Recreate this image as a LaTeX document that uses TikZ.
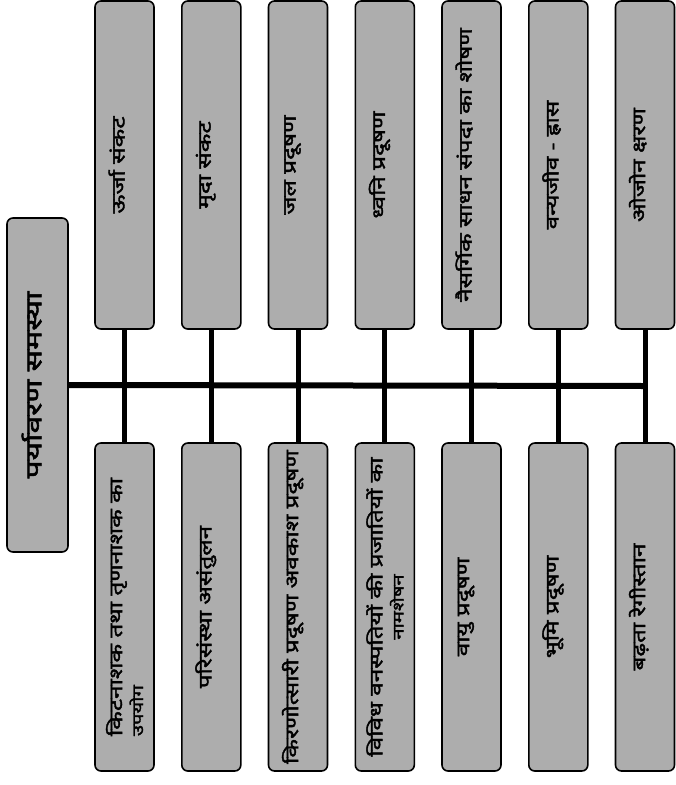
\documentclass[tikz,border=0pt]{standalone}
\usepackage{fontspec}
\newfontfamily\deva[Script=Devanagari,FakeBold=2.2,FakeStretch=1.35]{Noto Sans}
\newfontfamily\devamain[Script=Devanagari,FakeBold=2.6,FakeStretch=1.45]{Noto Sans}
\usetikzlibrary{positioning}
\tikzset{
  probbox/.style={draw,line width=1.6pt,rounded corners=6pt,fill=black!32,
            rotate=90,minimum width=328pt,minimum height=59pt,inner sep=1pt,
            align=center,text depth=16pt,
            font=\deva\fontsize{18}{21}\selectfont},
  twoline/.style={text depth=0pt},
  mainbox/.style={probbox,minimum width=334pt,minimum height=61pt,
            text depth=12pt,font=\devamain\fontsize{22}{26}\selectfont},
  trunk/.style={line width=6pt},
  stem/.style={line width=5pt},
}
\newcommand{\subline}[1]{{\fontsize{15}{16}\selectfont #1}}
\begin{document}
\begin{tikzpicture}[x=1pt,y=-1pt]
  \useasboundingbox (0,0) rectangle (676,785);
  % root
  \node[mainbox] (main) at (37.5,385) {पर्यावरण समस्या};
  % upper row
  \node[probbox] (t1) at (124.5,165) {ऊर्जा संकट};
  \node[probbox] (t2) at (211.3,165) {मृदा संकट};
  \node[probbox] (t3) at (298.0,165) {जल प्रदूषण};
  \node[probbox] (t4) at (384.8,165) {ध्वनि प्रदूषण};
  \node[probbox] (t5) at (471.5,165) {नैसर्गिक साधन संपदा का शोषण};
  \node[probbox] (t6) at (558.3,165) {वन्यजीव - ह्रास};
  \node[probbox] (t7) at (645.0,165) {ओजोन क्षरण};
  % lower row
  \node[probbox,twoline,align=left] (b1) at (124.5,607)
        {किटनाशक तथा तृणनाशक का\\\subline{उपयोग}};
  \node[probbox] (b2) at (211.3,607) {परिसंस्था असंतुलन};
  \node[probbox] (b3) at (298.0,607) {किरणोत्सारी प्रदूषण अवकाश प्रदूषण};
  \node[probbox,twoline] (b4) at (384.8,607)
        {विविध वनस्पतियों की प्रजातियों का\\\subline{नामशेषन}};
  \node[probbox] (b5) at (471.5,607) {वायु प्रदूषण};
  \node[probbox] (b6) at (558.3,607) {भूमि प्रदूषण};
  \node[probbox] (b7) at (645.0,607) {बढ़ता रेगीस्तान};
  % trunk line
  \coordinate (trunkend) at (645.0,386);
  \draw[trunk] (main.south) -- (trunkend);
  % stems
  \draw[stem] (t1.west) -- (b1.east);
  \draw[stem] (t2.west) -- (b2.east);
  \draw[stem] (t3.west) -- (b3.east);
  \draw[stem] (t4.west) -- (b4.east);
  \draw[stem] (t5.west) -- (b5.east);
  \draw[stem] (t6.west) -- (b6.east);
  \draw[stem] (t7.west) -- (b7.east);
\end{tikzpicture}
\end{document}
